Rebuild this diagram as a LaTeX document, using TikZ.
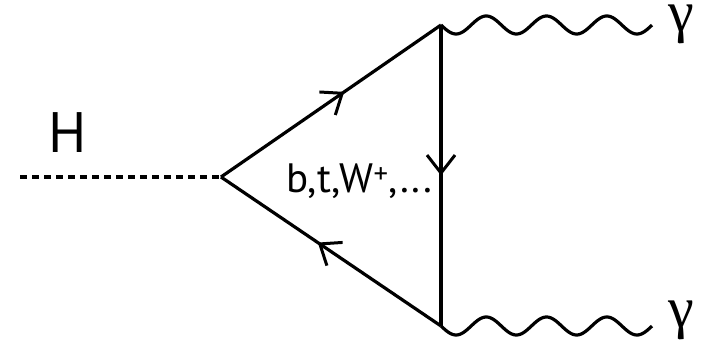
\documentclass[tikz,border=0pt]{standalone}
\usepackage{fontspec}
\setmainfont{PT Sans}
\newfontfamily\greekfont{Liberation Serif}
\usetikzlibrary{arrows.meta,decorations.markings}
\tikzset{
  line/.style={line width=3.2pt, line cap=butt},
  fermion/.style={line, postaction={decorate}, decoration={markings,
     mark=at position #1 with {\arrow[line width=3pt]{Straight Barb[length=18pt,width=28pt]}}}},
  scalar/.style={line, dash pattern=on 7pt off 5pt},
  lbl/.style={font=\fontsize{41}{41}\selectfont, inner sep=0pt},
  hlbl/.style={font=\fontsize{57}{57}\selectfont, inner sep=0pt},
  glbl/.style={font=\greekfont\fontsize{58}{58}\selectfont, inner sep=0pt, anchor=base},
}
\begin{document}
\begin{tikzpicture}[x=1pt,y=-1pt]
\useasboundingbox (0,0) rectangle (702,352);
\coordinate (hin) at (20,177);
\coordinate (v1) at (221,177);
\coordinate (v2) at (441,25);
\coordinate (v3) at (441,326);
\draw[scalar] (hin) -- (v1);
\draw[fermion=0.56] (v1) -- (v2);
\draw[fermion=0.5] (v2) -- (v3);
\draw[fermion=0.56] (v3) -- (v1);
\begin{scope}[shift={(v2)}]
\draw[line] plot[domain=0:211, samples=140, smooth] (\x, {9*sin(\x/60.3*360)}) coordinate (g1);
\end{scope}
\begin{scope}[shift={(v3)}]
\draw[line] plot[domain=0:211, samples=140, smooth] (\x, {9*sin(\x/60.3*360)}) coordinate (g2);
\end{scope}
\node[hlbl] (H) at (68,133) {H};
\node[lbl, anchor=base west] (loop) at (286,193) {b,t,W\textsuperscript{+},...};
\node[glbl] (ga1) at (681,32) {γ};
\node[glbl] (ga2) at (681,328) {γ};
\end{tikzpicture}
\end{document}
